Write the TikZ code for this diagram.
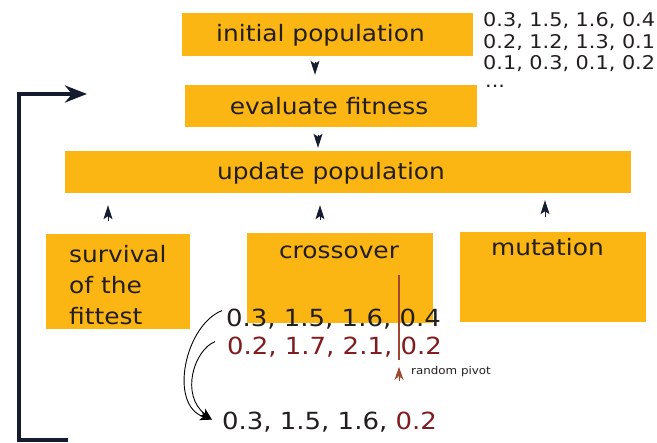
\documentclass[tikz,border=0pt]{standalone}
\usepackage{fontspec}
\setmainfont{DejaVu Sans}[FakeStretch=1.1]
\usetikzlibrary{arrows.meta,calc}

\definecolor{gaorange}{RGB}{252,182,20}
\definecolor{ganavy}{RGB}{22,28,48}
\definecolor{gatext}{RGB}{34,30,30}
\definecolor{gared}{RGB}{128,28,32}
\definecolor{pivotred}{RGB}{160,70,45}

\tikzset{
  gabox/.style={fill=gaorange, inner sep=0pt},
  lbl/.style={text=gatext, inner sep=0pt, font=\fontsize{22.6}{31}\selectfont},
  data/.style={text=gatext, inner sep=0pt, anchor=base west, font=\fontsize{18.9}{21}\selectfont},
  genes/.style={text=gatext, inner sep=0pt, anchor=base west, font=\fontsize{23.6}{28}\selectfont},
  flowtip/.style={ganavy, line width=1pt, -{Stealth[length=14pt,width=9pt,inset=3pt]}},
  looparrow/.style={ganavy, line width=4pt, -{Stealth[length=22pt,width=17pt,inset=7pt]}},
  mixarrow/.style={black, line width=0.9pt, -{Stealth[length=12pt,width=9pt,inset=3pt]}},
}

\begin{document}
\begin{tikzpicture}[x=1pt,y=-1pt]
        \useasboundingbox (0,0) rectangle (657,443);

        % the steps
        \node[gabox, minimum width=291pt, minimum height=43pt] (init) at (327.5,34.5) {};
        \node[gabox, minimum width=292pt, minimum height=42pt] (eval) at (331,106) {};
        \node[gabox, minimum width=566pt, minimum height=42pt] (update) at (347.5,172) {};
        \node[gabox, minimum width=144pt, minimum height=95pt] (surv) at (118,281.5) {};
        \node[gabox, minimum width=186pt, minimum height=90pt] (cross) at (340,278) {};
        \node[gabox, minimum width=186pt, minimum height=90pt] (mut) at (553,277) {};

        \node[lbl, anchor=base] (initlbl) at (320.5,42) {initial population};
        \node[lbl, anchor=base] (evallbl) at (329,114.5) {evaluate fitness};
        \node[lbl, anchor=base] (updatelbl) at (331,180) {update population};
        \node[lbl, anchor=north west, align=left] (survlbl) at (69,245) {survival\\of the\\fittest};
        \node[lbl, anchor=base] (crosslbl) at (339,259) {crossover};
        \node[lbl, anchor=base] (mutlbl) at (547.5,256) {mutation};

        % population
        \node[data] (pop1) at (483,27) {0.3, 1.5, 1.6, 0.4};
        \node[data] (pop2) at (483,48.5) {0.2, 1.2, 1.3, 0.1};
        \node[data] (pop3) at (483,70) {0.1, 0.3, 0.1, 0.2};
        \node[data] (pop4) at (485,88) {...};

        % flow
        \coordinate (colA) at (315,0);
        \coordinate (colB) at (318,0);
        \coordinate (colC) at (108,0);
        \coordinate (colD) at (320,0);
        \coordinate (colE) at (545,0);
        \draw[flowtip, shorten <=6pt, shorten >=10pt] (init.south -| colA) -- (eval.north -| colA);
        \draw[flowtip, shorten <=8pt, shorten >=3pt] (eval.south -| colB) -- (update.north -| colB);
        \draw[flowtip, shorten <=13pt, shorten >=12pt] (surv.north -| colC) -- (update.south -| colC);
        \draw[flowtip, shorten <=13pt, shorten >=12pt] (cross.north -| colD) -- (update.south -| colD);
        \draw[flowtip, shorten <=15pt, shorten >=7pt] (mut.north -| colE) -- (update.south -| colE);

        % loop back
        \coordinate (loopstart) at (68,440);
        \coordinate (loopcorner) at (19,94);
        \coordinate (loopend) at (87,94);
        \draw[looparrow] (loopstart) -| (loopcorner) -- (loopend);

        % crossover example
        \node[genes] (parentA) at (226,327) {0.3, 1.5, 1.6, 0.4};
        \node[genes, text=gared] (parentB) at (227,355) {0.2, 1.7, 2.1, 0.2};
        \node[genes] (child) at (222,430) {0.3, 1.5, 1.6, \textcolor{gared}{0.2}};

        \coordinate (pivottop) at (399,275);
        \coordinate (pivotbot) at (399,360);
        \draw[pivotred, line width=1.2pt] (pivottop) -- (pivotbot);
        \coordinate (pivotbase) at (399,381);
        \coordinate (pivotpoint) at (399,367);
        \draw[pivotred, line width=0.8pt, -{Stealth[length=13pt,width=9pt,inset=4pt]}] (pivotbase) -- (pivotpoint);
        \node[text=gatext, inner sep=0pt, anchor=base west, font=\fontsize{10.8}{12}\selectfont] (pivotlbl) at (411,375) {random pivot};

        \draw[mixarrow] ($(parentA.west)+(-4,-9)$) .. controls (185,325) and (168,405) .. ($(child.west)+(-10,-3)$);
        \draw[mixarrow] ($(parentB.west)+(-12,-6)$) .. controls (194,350) and (180,395) .. ($(child.west)+(-10,-3)$);

    \end{tikzpicture}
\end{document}
